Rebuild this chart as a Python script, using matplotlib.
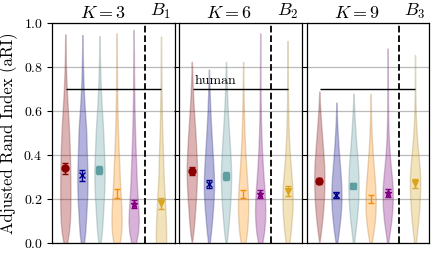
import numpy as np
import matplotlib
matplotlib.use('Agg')
import matplotlib.pyplot as plt
from matplotlib.colors import to_rgba

plt.rcParams['font.family'] = 'serif'
plt.rcParams['font.serif'] = ['cmr10']
plt.rcParams['mathtext.fontset'] = 'cm'
plt.rcParams['axes.unicode_minus'] = False
plt.rcParams['axes.formatter.use_mathtext'] = True

# panel labels
k_labels = ['$K=3$', '$K=6$', '$K=9$']
b_labels = ['$B_1$', '$B_2$', '$B_3$']

# method styles (5 methods + baseline)
colors = ['darkred', 'darkblue', 'cadetblue', 'darkorange', 'purple', 'goldenrod']
markers = ['o', 'x', 's', '', '*', 'v']
positions = [1, 2, 3, 4, 5, 6.6]

# mean aRI and error per panel
means_k3 = [0.341, 0.310, 0.333, 0.225, 0.179, 0.182]
errs_k3 = [0.025, 0.025, 0.020, 0.020, 0.017, 0.025]
means_k6 = [0.330, 0.270, 0.307, 0.224, 0.224, 0.238]
errs_k6 = [0.018, 0.020, 0.018, 0.018, 0.018, 0.022]
means_k9 = [0.283, 0.218, 0.262, 0.201, 0.229, 0.273]
errs_k9 = [0.013, 0.013, 0.012, 0.017, 0.017, 0.020]

human = 0.70

# violin outlines: bottom, top and relative width
# sampled every 0.05 in aRI from the bottom (last value sits at the top)
lows_k3 = [0, 0, 0, 0, 0, 0]
tops_k3 = [0.95, 0.947, 0.942, 0.955, 0.97, 0.94]
dens_k3 = [
    [0.35, 0.70, 0.90, 0.97, 1.00, 1.00, 0.98, 0.95, 0.90, 0.83, 0.75, 0.65, 0.52, 0.40, 0.28, 0.20, 0.13, 0.08, 0.05, 0.02],
    [0.30, 0.55, 0.68, 0.80, 0.92, 0.98, 1.00, 0.95, 0.88, 0.82, 0.77, 0.65, 0.50, 0.37, 0.26, 0.18, 0.12, 0.07, 0.04, 0.02],
    [0.20, 0.45, 0.60, 0.72, 0.85, 0.95, 1.00, 0.98, 0.90, 0.82, 0.74, 0.62, 0.48, 0.36, 0.26, 0.18, 0.12, 0.07, 0.04, 0.02],
    [0.60, 0.90, 1.00, 0.95, 0.85, 0.72, 0.62, 0.55, 0.45, 0.35, 0.28, 0.22, 0.17, 0.13, 0.10, 0.08, 0.06, 0.04, 0.03, 0.01],
    [0.45, 0.85, 1.00, 0.92, 0.80, 0.67, 0.57, 0.50, 0.42, 0.34, 0.28, 0.22, 0.17, 0.13, 0.10, 0.08, 0.06, 0.05, 0.03, 0.01],
    [1.00, 1.00, 0.95, 0.85, 0.75, 0.62, 0.52, 0.45, 0.40, 0.33, 0.25, 0.20, 0.16, 0.13, 0.10, 0.08, 0.06, 0.04, 0.03, 0.01],
]
lows_k6 = [0.007, 0, 0, 0, 0, 0]
tops_k6 = [0.825, 0.79, 0.825, 0.825, 0.955, 0.92]
dens_k6 = [
    [0.05, 0.30, 0.50, 0.65, 0.80, 0.92, 1.00, 1.00, 0.93, 0.82, 0.70, 0.56, 0.42, 0.30, 0.20, 0.11, 0.05, 0.02],
    [0.15, 0.40, 0.60, 0.78, 0.92, 1.00, 0.98, 0.88, 0.75, 0.62, 0.50, 0.38, 0.28, 0.20, 0.12, 0.06, 0.02],
    [0.10, 0.35, 0.55, 0.72, 0.86, 0.96, 1.00, 0.96, 0.86, 0.74, 0.60, 0.47, 0.35, 0.25, 0.17, 0.10, 0.05, 0.02],
    [0.45, 0.75, 0.92, 1.00, 0.98, 0.88, 0.74, 0.60, 0.47, 0.36, 0.27, 0.20, 0.15, 0.11, 0.08, 0.05, 0.03, 0.01],
    [0.40, 0.75, 0.95, 1.00, 0.95, 0.82, 0.66, 0.52, 0.40, 0.30, 0.22, 0.16, 0.12, 0.09, 0.07, 0.05, 0.04, 0.03, 0.02, 0.01],
    [0.35, 0.60, 0.80, 0.95, 1.00, 0.95, 0.80, 0.62, 0.46, 0.33, 0.24, 0.17, 0.12, 0.09, 0.07, 0.05, 0.04, 0.03, 0.01],
]
lows_k9 = [0.007, 0, 0, 0, 0, 0]
tops_k9 = [0.69, 0.64, 0.68, 0.68, 0.886, 0.856]
dens_k9 = [
    [0.05, 0.30, 0.55, 0.75, 0.90, 0.98, 1.00, 0.95, 0.82, 0.66, 0.50, 0.34, 0.20, 0.08, 0.02],
    [0.15, 0.45, 0.70, 0.90, 1.00, 0.97, 0.86, 0.70, 0.53, 0.38, 0.25, 0.14, 0.06, 0.02],
    [0.10, 0.35, 0.60, 0.80, 0.93, 1.00, 0.98, 0.88, 0.72, 0.55, 0.40, 0.27, 0.15, 0.06, 0.02],
    [0.20, 0.55, 0.82, 0.97, 1.00, 0.92, 0.78, 0.60, 0.44, 0.30, 0.20, 0.12, 0.07, 0.03, 0.01],
    [0.10, 0.40, 0.70, 0.90, 1.00, 0.97, 0.82, 0.60, 0.42, 0.28, 0.18, 0.12, 0.08, 0.06, 0.05, 0.04, 0.03, 0.02, 0.01],
    [0.15, 0.40, 0.62, 0.80, 0.92, 1.00, 1.00, 0.88, 0.68, 0.48, 0.32, 0.20, 0.13, 0.09, 0.06, 0.04, 0.03, 0.01],
]

panels = [
    (lows_k3, tops_k3, dens_k3, means_k3, errs_k3),
    (lows_k6, tops_k6, dens_k6, means_k6, errs_k6),
    (lows_k9, tops_k9, dens_k9, means_k9, errs_k9),
]

fig = plt.figure(figsize=(4.36, 2.59), dpi=100)
lefts = [0.1204, 0.4106, 0.703]
axes = [fig.add_axes([l, 0.0606, 0.281, 0.8494]) for l in lefts]

for i, ax in enumerate(axes):
    lows, tops, dens, means, errs = panels[i]
    stats = []
    for lo, hi, d in zip(lows, tops, dens):
        n = len(d)
        c = np.r_[lo, 0.05 * np.arange(1, n - 1), hi]
        stats.append({'coords': c, 'vals': np.array(d),
                      'mean': np.mean(c), 'median': np.median(c),
                      'min': lo, 'max': hi})
    parts = ax.violin(stats, positions=positions, widths=0.6,
                      showextrema=False)
    for body, col in zip(parts['bodies'], colors):
        body.set_facecolor(to_rgba(col, 0.33))
        r, g, b, _ = to_rgba(col)
        body.set_edgecolor((0.5 * r + 0.2, 0.5 * g + 0.2, 0.5 * b + 0.2, 0.45))
        body.set_linewidth(1)

    for j in range(6):
        ax.errorbar(positions[j], means[j], yerr=errs[j], color=colors[j],
                    marker=markers[j] if markers[j] else None, ms=5,
                    capsize=2.5, elinewidth=1, capthick=1, zorder=4)

    ax.axvline(5.65, color='black', ls='--', lw=1.3)
    ax.hlines(human, 1.05, 6.6, color='black', lw=1)
    if i == 1:
        ax.text(1.15, human + 0.012, 'human', fontsize=10, va='bottom')

    ax.text(3.2, 1.012, k_labels[i], fontsize=13, ha='center', va='bottom')
    ax.text(6.6, 1.012, b_labels[i], fontsize=13, ha='center', va='bottom')

    ax.set_xlim(0.25, 7.42)
    ax.set_ylim(0, 1.0)
    ax.set_xticks([])
    ax.set_yticks([0.0, 0.2, 0.4, 0.6, 0.8, 1.0])
    ax.yaxis.grid(True, color='#bbbbbb', lw=0.9)
    ax.set_axisbelow(True)
    ax.tick_params(axis='y', length=3.5, labelsize=10)
    if i > 0:
        ax.set_yticklabels([])
    for sp in ax.spines.values():
        sp.set_linewidth(0.9)

axes[0].set_ylabel('Adjusted Rand Index (aRI)', fontsize=12)

fig.savefig('out.png', dpi=100)
